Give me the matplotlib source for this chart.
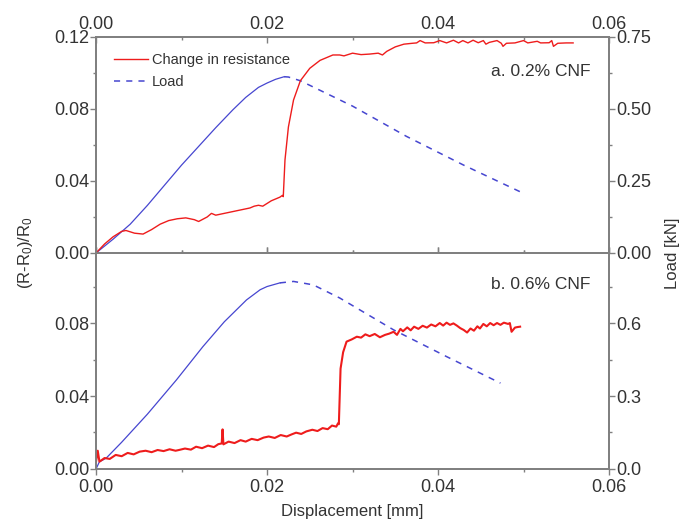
import matplotlib
matplotlib.use("Agg")
import matplotlib.pyplot as plt
from matplotlib.lines import Line2D

plt.rcParams['font.family'] = ['Liberation Sans', 'DejaVu Sans']
plt.rcParams['mathtext.default'] = 'regular'

# ---- panel a: 0.2% CNF ----
a_res_x = [0, 0.001, 0.002, 0.003, 0.0035, 0.0045, 0.0055, 0.0065, 0.0075, 0.0085,
           0.0095, 0.0105, 0.0115, 0.012, 0.013, 0.0135, 0.014, 0.015, 0.016, 0.017,
           0.018, 0.0185, 0.019, 0.0195, 0.020, 0.0205, 0.021, 0.0215, 0.0218, 0.0219,
           0.0221, 0.0225, 0.0231, 0.0239, 0.025, 0.0262, 0.0277, 0.0285, 0.029, 0.030,
           0.031, 0.032, 0.033, 0.0335, 0.034, 0.035, 0.036, 0.037, 0.0375, 0.0379,
           0.0385, 0.0395, 0.0402, 0.041, 0.0418, 0.0424, 0.0429, 0.0435, 0.0441, 0.0447,
           0.0453, 0.0456, 0.046, 0.0469, 0.0474, 0.0476, 0.048, 0.049, 0.050, 0.0505,
           0.0516, 0.052, 0.053, 0.0533, 0.0535, 0.054, 0.055, 0.0558]
a_res_y = [0, 0.005, 0.009, 0.012, 0.0125, 0.011, 0.0105, 0.013, 0.016, 0.018,
           0.019, 0.0195, 0.0185, 0.0175, 0.020, 0.022, 0.021, 0.022, 0.023, 0.024,
           0.025, 0.026, 0.0265, 0.026, 0.0275, 0.029, 0.030, 0.031, 0.032, 0.0313,
           0.0517, 0.070, 0.085, 0.0957, 0.1026, 0.107, 0.110, 0.110, 0.1095, 0.111,
           0.1102, 0.1105, 0.111, 0.1100, 0.112, 0.1145, 0.116, 0.1165, 0.1167, 0.1180,
           0.1167, 0.1168, 0.1180, 0.1167, 0.1182, 0.1167, 0.1180, 0.1167, 0.1182, 0.1168,
           0.1180, 0.1160, 0.1170, 0.1180, 0.1165, 0.1148, 0.1165, 0.1167, 0.1180, 0.1167,
           0.1176, 0.1167, 0.1168, 0.1180, 0.1148, 0.1165, 0.1167, 0.1167]

a_load_up_x = [0, 0.002, 0.004, 0.006, 0.008, 0.010, 0.012, 0.014, 0.016, 0.0175,
               0.019, 0.020, 0.021, 0.022]
a_load_up_y = [0, 0.048, 0.10, 0.165, 0.235, 0.305, 0.37, 0.435, 0.497, 0.54,
               0.575, 0.59, 0.603, 0.612]
a_load_down_x = [0.022, 0.0225, 0.0239, 0.030, 0.0363, 0.043, 0.050]
a_load_down_y = [0.612, 0.611, 0.598, 0.51, 0.405, 0.305, 0.207]

# ---- panel b: 0.6% CNF ----
b_res_x = [0, 0.0002, 0.0004, 0.001, 0.0016, 0.0023, 0.003, 0.0037, 0.0044, 0.0051,
           0.0058, 0.0065, 0.0072, 0.0079, 0.0086, 0.0093, 0.0097, 0.0104, 0.0111, 0.0117,
           0.0124, 0.0131, 0.0138, 0.0143, 0.0147, 0.0148, 0.0149, 0.0155, 0.0162, 0.0169,
           0.0175, 0.0182, 0.0189, 0.0196, 0.0202, 0.0209, 0.0216, 0.0223, 0.0229, 0.0234,
           0.0240, 0.0246, 0.0253, 0.0259, 0.0265, 0.0271, 0.0276, 0.0281, 0.0283, 0.0284,
           0.0286, 0.0289, 0.0293, 0.0299, 0.0305, 0.031, 0.0315, 0.032, 0.0326, 0.0332,
           0.0338, 0.0343, 0.0348, 0.0352, 0.0356, 0.0359, 0.0364, 0.0368, 0.0372, 0.0377,
           0.0382, 0.0387, 0.0392, 0.0397, 0.0402, 0.0406, 0.041, 0.0414, 0.0418, 0.0422,
           0.0426, 0.0430, 0.0434, 0.0438, 0.0442, 0.0446, 0.0449, 0.0453, 0.0457, 0.0461,
           0.0465, 0.0469, 0.0473, 0.0477, 0.0482, 0.0484, 0.0486, 0.049, 0.0493, 0.0496]
b_res_y = [0.004, 0.010, 0.004, 0.006, 0.0055, 0.0077, 0.0070, 0.0088, 0.0080, 0.0095,
           0.0100, 0.0092, 0.0104, 0.0098, 0.0108, 0.0100, 0.0104, 0.0112, 0.0106, 0.0122,
           0.0114, 0.0128, 0.0120, 0.0136, 0.0140, 0.0217, 0.0135, 0.0150, 0.0142, 0.0158,
           0.0150, 0.0165, 0.0158, 0.0172, 0.0178, 0.0170, 0.0186, 0.0178, 0.0190, 0.0199,
           0.0192, 0.0206, 0.0215, 0.0208, 0.0224, 0.0218, 0.0238, 0.0232, 0.0250, 0.0245,
           0.0550, 0.0640, 0.0698, 0.0710, 0.0725, 0.0720, 0.0738, 0.0728, 0.0740, 0.0722,
           0.0735, 0.0742, 0.0752, 0.0735, 0.0768, 0.0755, 0.0776, 0.0760, 0.0780, 0.0768,
           0.0785, 0.0775, 0.0792, 0.0782, 0.0800, 0.0786, 0.0802, 0.0790, 0.0798, 0.0786,
           0.0772, 0.0762, 0.0748, 0.0770, 0.0758, 0.0782, 0.0770, 0.0795, 0.0782, 0.0800,
           0.0788, 0.0800, 0.0790, 0.0802, 0.0795, 0.0800, 0.0752, 0.0775, 0.0778, 0.0780]

b_load_up_x = [0, 0.0004, 0.0008, 0.0012, 0.003, 0.006, 0.0094, 0.0125, 0.0150, 0.0176,
               0.0192, 0.020, 0.0215]
b_load_up_y = [0, 0.03, 0.037, 0.045, 0.11, 0.225, 0.366, 0.503, 0.605, 0.695,
               0.737, 0.750, 0.765]
b_load_down_x = [0.0215, 0.0231, 0.0254, 0.0285, 0.0348, 0.041, 0.0473]
b_load_down_y = [0.765, 0.771, 0.757, 0.703, 0.572, 0.462, 0.353]

red = "#ee1c1c"
blue = "#4646d0"
spine_col = "#808080"
txt_col = "#333333"

fig = plt.figure(figsize=(6.83, 5.23), dpi=100)
ax_a = fig.add_axes([0.1406, 0.5163, 0.7511, 0.4130])
ax_b = fig.add_axes([0.1406, 0.1033, 0.7511, 0.4130])
ax_a2 = ax_a.twinx()
ax_b2 = ax_b.twinx()

# panel a
l1, = ax_a.plot(a_res_x, a_res_y, color=red, lw=1.0)
ax_a2.plot(a_load_up_x, a_load_up_y, color=blue, lw=0.9)
ax_a2.plot(a_load_down_x, a_load_down_y, color=blue, lw=1.1, ls=(0, (4, 4)))
ax_a.set_ylim(0, 0.12)
ax_a2.set_ylim(0, 0.75)
ax_a.set_yticks([0, 0.04, 0.08, 0.12])
ax_a.set_yticks([0.02, 0.06, 0.10], minor=True)
ax_a2.set_yticks([0, 0.25, 0.5, 0.75])
ax_a2.set_yticks([0.125, 0.375, 0.625], minor=True)
ax_a2.set_yticklabels(["0.00", "0.25", "0.50", "0.75"])

# panel b
ax_b.plot(b_res_x, b_res_y, color=red, lw=1.5)
ax_b2.plot(b_load_up_x, b_load_up_y, color=blue, lw=0.9)
ax_b2.plot(b_load_down_x, b_load_down_y, color=blue, lw=1.1, ls=(0, (4, 4)))
ax_b.set_ylim(0, 0.1184)
ax_b2.set_ylim(0, 0.888)
ax_b.set_yticks([0, 0.04, 0.08])
ax_b.set_yticks([0.02, 0.06, 0.10], minor=True)
ax_b2.set_yticks([0, 0.3, 0.6])
ax_b2.set_yticks([0.15, 0.45, 0.75], minor=True)
ax_b2.set_yticklabels(["0.0", "0.3", "0.6"])

for ax in (ax_a, ax_b):
    ax.set_xlim(0, 0.06)
    ax.set_xticks([0, 0.02, 0.04, 0.06])
    ax.set_xticks([0.01, 0.03, 0.05], minor=True)

ax_a.set_yticklabels(["0.00", "0.04", "0.08", "0.12"])
ax_b.set_yticklabels(["0.00", "0.04", "0.08"])
ax_a.set_xticklabels(["0.00", "0.02", "0.04", "0.06"])
ax_b.set_xticklabels(["0.00", "0.02", "0.04", "0.06"])

for ax in (ax_a, ax_b, ax_a2, ax_b2):
    for s in ax.spines.values():
        s.set_color(spine_col)
        s.set_linewidth(1.3)
    ax.tick_params(which='major', length=4, width=1, color=spine_col,
                   labelsize=13, labelcolor=txt_col, pad=1)
    ax.tick_params(which='minor', length=2.5, width=1, color=spine_col)
    ax.tick_params(axis='y', which='both', direction='out')

ax_a.tick_params(axis='x', which='both', top=True, bottom=True, labeltop=True,
                 labelbottom=False, direction='in', pad=3)
ax_b.tick_params(axis='x', which='both', top=True, bottom=True, direction='out', pad=3)

ax_a.set_zorder(ax_a2.get_zorder() + 1)
ax_a.patch.set_visible(False)
ax_b.set_zorder(ax_b2.get_zorder() + 1)
ax_b.patch.set_visible(False)

h_load = Line2D([], [], color=blue, lw=1.1, ls=(0, (4, 4)))
ax_a.legend([l1, h_load], ["Change in resistance", "Load"], loc='upper left',
            bbox_to_anchor=(0.01, 0.985), frameon=False, fontsize=10.5,
            handlelength=2.3, handletextpad=0.3, labelspacing=0.5,
            labelcolor=txt_col)

ax_a.text(0.963, 0.838, "a. 0.2% CNF", transform=ax_a.transAxes, ha='right',
          va='center', fontsize=12.5, color=txt_col)
ax_b.text(0.963, 0.852, "b. 0.6% CNF", transform=ax_b.transAxes, ha='right',
          va='center', fontsize=12.5, color=txt_col)

fig.text(0.037, 0.516, "(R-R$_0$)/R$_0$", rotation=90, ha='center', va='center',
         fontsize=12, color=txt_col)
fig.text(0.985, 0.516, "Load [kN]", rotation=90, ha='center', va='center',
         fontsize=12, color=txt_col)
fig.text(0.516, 0.022, "Displacement [mm]", ha='center', va='center',
         fontsize=12, color=txt_col)

fig.savefig("out.png", dpi=100)
